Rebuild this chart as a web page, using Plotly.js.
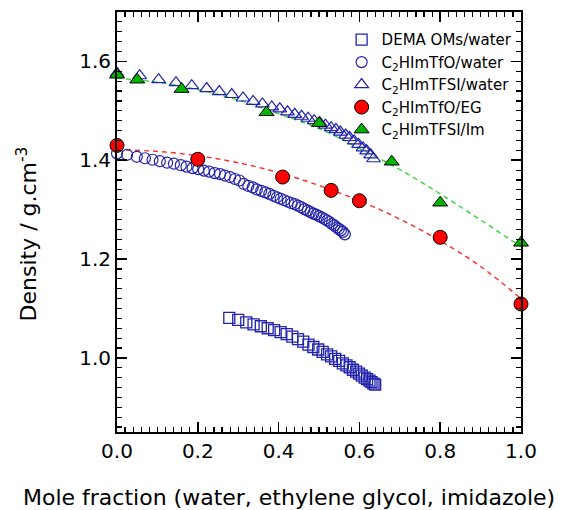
<!DOCTYPE html>
<html>
<head>
<meta charset="utf-8">
<script src="https://cdn.plot.ly/plotly-3.0.1.min.js"></script>
<style>html,body{margin:0;padding:0;background:#fff;}#chart{width:561px;height:510px;}</style>
</head>
<body>
<div id="chart"></div>
<script>
// ---- data ----
const demaX = [0.278,0.300,0.320,0.338,0.356,0.373,0.389,0.405,0.420,0.434,0.448,0.461,0.474,0.486,0.498,0.509,0.520,0.530,0.540,0.550,0.559,0.568,0.576,0.584,0.592,0.599,0.606,0.613,0.619,0.625,0.630,0.635,0.639];
const demaY = [1.081,1.077,1.072,1.068,1.064,1.060,1.056,1.052,1.048,1.043,1.038,1.033,1.027,1.022,1.017,1.012,1.007,1.003,0.998,0.994,0.989,0.985,0.981,0.976,0.972,0.968,0.964,0.960,0.957,0.954,0.951,0.948,0.946];

const tfoWaterX = [0.000,0.025,0.049,0.069,0.088,0.106,0.124,0.141,0.158,0.172,0.187,0.201,0.215,0.228,0.242,0.255,0.267,0.280,0.292,0.303,0.314,0.325,0.336,0.346,0.357,0.367,0.377,0.387,0.396,0.405,0.414,0.423,0.432,0.440,0.448,0.456,0.464,0.472,0.479,0.486,0.493,0.500,0.507,0.514,0.520,0.526,0.532,0.538,0.544,0.549,0.554,0.559,0.564];
const tfoWaterY = [1.414,1.411,1.407,1.404,1.401,1.398,1.395,1.393,1.390,1.387,1.384,1.382,1.379,1.377,1.374,1.372,1.369,1.366,1.362,1.359,1.352,1.348,1.345,1.341,1.338,1.335,1.332,1.328,1.325,1.322,1.319,1.316,1.313,1.311,1.308,1.305,1.301,1.298,1.295,1.292,1.290,1.287,1.284,1.281,1.278,1.275,1.271,1.268,1.264,1.261,1.258,1.255,1.250];

const tfsiWaterX = [0.000,0.056,0.103,0.146,0.185,0.222,0.253,0.284,0.312,0.337,0.360,0.383,0.403,0.422,0.440,0.457,0.473,0.488,0.502,0.516,0.530,0.542,0.553,0.566,0.576,0.587,0.598,0.609,0.618,0.628,0.635];
const tfsiWaterY = [1.576,1.571,1.563,1.557,1.551,1.545,1.539,1.533,1.526,1.519,1.514,1.508,1.504,1.498,1.493,1.489,1.485,1.480,1.476,1.471,1.466,1.462,1.457,1.451,1.446,1.439,1.432,1.425,1.419,1.411,1.403];

const tfoEgX = [0.00,0.20,0.41,0.53,0.60,0.80,1.00];
const tfoEgY = [1.430,1.402,1.366,1.339,1.318,1.244,1.109];

const tfsiImX = [0.00,0.05,0.16,0.37,0.50,0.68,0.80,1.00];
const tfsiImY = [1.573,1.563,1.544,1.497,1.475,1.397,1.314,1.233];

// dashed guide curves
const fitX = [0.0,0.1,0.2,0.3,0.4,0.5,0.6,0.7,0.8,0.9,1.0];
const fitEgY = [1.421,1.418,1.409,1.395,1.375,1.349,1.318,1.281,1.237,1.185,1.120];
const fitImY = [1.566,1.558,1.543,1.522,1.494,1.464,1.424,1.381,1.332,1.279,1.225];

const seriesNames = ['DEMA OMs/water','C<sub>2</sub>HImTfO/water','C<sub>2</sub>HImTFSI/water','C<sub>2</sub>HImTfO/EG','C<sub>2</sub>HImTFSI/Im'];
const xTickVals = [0.0,0.2,0.4,0.6,0.8,1.0];
const yTickVals = [1.0,1.2,1.4,1.6];

// ---- styling ----
const blue = 'rgb(34,34,172)';
const traces = [
  {x: fitX, y: fitEgY, mode:'lines', line:{color:'#ff2a2a', width:1.4, dash:'5px,4px', shape:'spline'}, showlegend:false, hoverinfo:'skip'},
  {x: fitX, y: fitImY, mode:'lines', line:{color:'#33d633', width:1.4, dash:'5px,4px', shape:'spline'}, showlegend:false, hoverinfo:'skip'},
  {x: demaX, y: demaY, name: seriesNames[0], mode:'markers', cliponaxis:false,
   marker:{symbol:'square-open', size:11, color:blue, line:{width:1.3}}},
  {x: tfoWaterX, y: tfoWaterY, name: seriesNames[1], mode:'markers', cliponaxis:false,
   marker:{symbol:'circle-open', size:11, color:blue, line:{width:1.2}}},
  {x: tfsiWaterX, y: tfsiWaterY, name: seriesNames[2], mode:'markers', cliponaxis:false,
   marker:{symbol:'triangle-up-open', size:12, color:blue, line:{width:1.2}}},
  {x: tfoEgX, y: tfoEgY, name: seriesNames[3], mode:'markers', cliponaxis:false,
   marker:{symbol:'circle', size:14, color:'#ff0000', line:{color:'#000', width:1}}},
  {x: tfsiImX, y: tfsiImY, name: seriesNames[4], mode:'markers', cliponaxis:false,
   marker:{symbol:'triangle-up', size:13, color:'#00b400', line:{color:'#000', width:1}}}
];

const axisCommon = {
  showgrid:false, zeroline:false, showline:true, linecolor:'#000', linewidth:2,
  mirror:'allticks', ticks:'inside', ticklen:10, tickwidth:1.5, tickcolor:'#000',
  tickfont:{family:'DejaVu Sans, sans-serif', size:20, color:'#000'},
  tickformat:'.1f', tickmode:'array'
};

const layout = {
  width:561, height:510,
  margin:{l:117, r:40, t:12, b:78},
  paper_bgcolor:'#fff', plot_bgcolor:'#fff',
  showlegend:true,
  legend:{x:0.556, y:0.973, xanchor:'left', yanchor:'top', bgcolor:'rgba(0,0,0,0)',
          font:{family:'DejaVu Sans, sans-serif', size:15, color:'#000'}, tracegroupgap:0},
  xaxis: Object.assign({}, axisCommon, {range:[0,1], tickvals:xTickVals,
          minor:{dtick:0.02, ticklen:5, tickwidth:1.2, tickcolor:'#000', ticks:'inside'}}),
  yaxis: Object.assign({}, axisCommon, {range:[0.85,1.70], tickvals:yTickVals,
          minor:{dtick:0.02, ticklen:5, tickwidth:1.2, tickcolor:'#000', ticks:'inside'}}),
  annotations:[
    {text:'Mole fraction (water, ethylene glycol, imidazole)', xref:'paper', yref:'paper',
     x:0.4257, y:-0.157, xanchor:'center', yanchor:'middle', showarrow:false,
     font:{family:'DejaVu Sans, sans-serif', size:22, color:'#000'}},
    {text:'Density / g.cm<sup>-3</sup>', xref:'paper', yref:'paper', textangle:-90,
     x:-0.222, y:0.471, xanchor:'center', yanchor:'middle', showarrow:false,
     font:{family:'DejaVu Sans, sans-serif', size:22, color:'#000'}}
  ]
};

Plotly.newPlot('chart', traces, layout, {displayModeBar:false, staticPlot:true});
</script>
</body>
</html>
